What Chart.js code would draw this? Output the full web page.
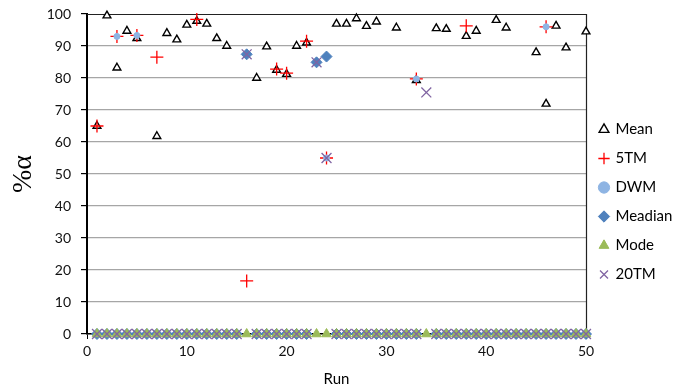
<!DOCTYPE html>
<html>
<head>
<meta charset="utf-8">
<script src="https://cdn.jsdelivr.net/npm/chart.js@4/dist/chart.umd.min.js"></script>
<style>
  html, body { margin: 0; padding: 0; background: #fff; }
  #wrap { width: 680px; height: 390px; position: relative; }
</style>
</head>
<body>
<div id="wrap"><canvas id="grafico"></canvas></div>
<script>
// Dados (run 1..50), null = sem ponto
const runs = [1, 2, 3, 4, 5, 6, 7, 8, 9, 10, 11, 12, 13, 14, 15, 16, 17, 18, 19, 20,
    21, 22, 23, 24, 25, 26, 27, 28, 29, 30, 31, 32, 33, 34, 35, 36, 37, 38, 39, 40,
    41, 42, 43, 44, 45, 46, 47, 48, 49, 50];

const mean = [65, 99.5, 83.2, 94.7, 92.4, null, 61.8, 94, 92, 96.6,
    97.8, 96.9, 92.4, 90, null, null, 80, 89.8, 82.5, 81.2,
    90, 91, null, null, 96.9, 96.9, 98.6, 96.2, 97.6, null,
    95.7, null, 79.3, null, 95.5, 95.3, null, 93.1, 94.7, null,
    98.1, 95.7, null, null, 88, 71.9, 96.3, 89.5, null, 94.5];

const tm5 = [65, null, 93, null, 93.3, null, 86.5, null, null, null,
    98.3, null, null, null, null, 16.6, null, null, 82.8, 81.5,
    null, 91.5, null, 55, null, null, null, null, null, null,
    null, null, 79.7, null, null, null, null, 96.3, null, null,
    null, null, null, null, null, 96, null, null, null, null];

const dwm = [0, 0, 93, 0, 93.3, 0, 0, 0, 0, 0,
    0, 0, 0, 0, 0, 87.4, 0, 0, 0, 0,
    0, 0, 84.9, 55, 0, 0, 0, 0, 0, 0,
    0, 0, 79.7, null, 0, 0, 0, 0, 0, 0,
    0, 0, 0, 0, 0, 96, 0, 0, 0, 0];

const meadian = [0, 0, 0, 0, 0, 0, 0, 0, 0, 0,
    0, 0, 0, 0, 0, 87.4, 0, 0, 0, 0,
    0, 0, 84.9, 86.7, 0, 0, 0, 0, 0, 0,
    0, 0, 0, null, 0, 0, 0, 0, 0, 0,
    0, 0, 0, 0, 0, 0, 0, 0, 0, 0];

const mode = [0, 0, 0, 0, 0, 0, 0, 0, 0, 0,
    0, 0, 0, 0, 0, 0, 0, 0, 0, 0,
    0, 0, 0, 0, 0, 0, 0, 0, 0, 0,
    0, 0, 0, 0, 0, 0, 0, 0, 0, 0,
    0, 0, 0, 0, 0, 0, 0, 0, 0, 0];

const tm20 = [0, 0, 0, 0, 0, 0, 0, 0, 0, 0,
    0, 0, 0, 0, 0, 87.4, 0, 0, 0, 0,
    0, 0, 84.9, 55, 0, 0, 0, 0, 0, 0,
    0, 0, 0, 75.5, 0, 0, 0, 0, 0, 0,
    0, 0, 0, 0, 0, 0, 0, 0, 0, 0];

const xTicks = [0, 10, 20, 30, 40, 50];
const yTicks = [0, 10, 20, 30, 40, 50, 60, 70, 80, 90, 100];

function pontos(valores) {
    return runs.map((r, i) => ({ x: r, y: valores[i] }));
}

const fonte = 'Lato, "Liberation Sans", sans-serif';

// Borda do plot (topo e direita)
const bordaPlot = {
    id: 'bordaPlot',
    beforeDatasetsDraw(chart) {
        const { ctx, chartArea: a } = chart;
        ctx.save();
        ctx.strokeStyle = '#222';
        ctx.lineWidth = 1.2;
        ctx.beginPath();
        ctx.moveTo(a.left, a.top + 0.5);
        ctx.lineTo(a.right + 0.5, a.top + 0.5);
        ctx.lineTo(a.right + 0.5, a.bottom);
        ctx.stroke();
        ctx.restore();
    }
};

new Chart(document.getElementById('grafico'), {
    type: 'scatter',
    data: {
        datasets: [
            { label: 'Mean', data: pontos(mean), pointStyle: 'triangle', pointRadius: 4.5,
              backgroundColor: '#fff', borderColor: '#000', borderWidth: 1.4, order: 6, clip: false },
            { label: '5TM', data: pontos(tm5), pointStyle: 'cross', pointRadius: 6.5,
              backgroundColor: '#ff0000', borderColor: '#ff0000', borderWidth: 1.3, order: 5, clip: false },
            { label: 'DWM', data: pontos(dwm), pointStyle: 'circle', pointRadius: 3,
              backgroundColor: '#8eb4e3', borderColor: '#8eb4e3', borderWidth: 1, order: 4, clip: false },
            { label: 'Meadian', data: pontos(meadian), pointStyle: 'rectRot', pointRadius: 5.5,
              backgroundColor: '#4f81bd', borderColor: '#4f81bd', borderWidth: 1, order: 3, clip: false },
            { label: 'Mode', data: pontos(mode), pointStyle: 'triangle', pointRadius: 5.5,
              backgroundColor: '#9bbb59', borderColor: '#9bbb59', borderWidth: 1, order: 2, clip: false },
            { label: '20TM', data: pontos(tm20), pointStyle: 'crossRot', pointRadius: 7,
              backgroundColor: '#8064a2', borderColor: '#8064a2', borderWidth: 1.3, order: 1, clip: false }
        ]
    },
    options: {
        responsive: true,
        maintainAspectRatio: false,
        animation: false,
        layout: { padding: { top: 14, right: 0, left: 0, bottom: 0 } },
        plugins: {
            tooltip: { enabled: false },
            legend: {
                position: 'right',
                maxWidth: 94,
                labels: {
                    usePointStyle: true,
                    boxWidth: 8,
                    boxHeight: 8,
                    padding: 14,
                    color: '#000',
                    font: { family: fonte, size: 15 },
                    sort: (a, b) => a.datasetIndex - b.datasetIndex
                }
            }
        },
        scales: {
            x: {
                type: 'linear',
                min: 0,
                max: 50,
                afterBuildTicks: s => { s.ticks = xTicks.map(v => ({ value: v })); },
                afterFit: s => { s.height = 56; },
                ticks: { padding: 4, color: '#111', font: { family: fonte, size: 14 } },
                grid: { drawOnChartArea: false, tickColor: '#000', tickLength: 5 },
                border: { color: '#000', width: 1.5 },
                title: { display: true, text: 'Run', color: '#000',
                         font: { family: fonte, size: 15 }, padding: { top: 0, bottom: 2 } }
            },
            y: {
                min: 0,
                max: 100,
                afterBuildTicks: s => { s.ticks = yTicks.map(v => ({ value: v })); },
                afterFit: s => {
                    s.width = 87;
                    s.paddingTop = 0;
                    s.paddingBottom = 0;
                },
                ticks: { padding: 10, color: '#111', font: { family: fonte, size: 14 } },
                grid: {
                    color: c => (c.tick && c.tick.value === 100) ? 'rgba(0,0,0,0)' : '#a6a6a6',
                    lineWidth: 1.2,
                    tickColor: '#000',
                    tickLength: 6
                },
                border: { color: '#000', width: 2 },
                title: { display: true, text: '%α', color: '#000',
                         font: { family: '"Liberation Serif", serif', size: 28 }, padding: { top: 7 } }
            }
        }
    },
    plugins: [bordaPlot]
});
</script>
</body>
</html>
